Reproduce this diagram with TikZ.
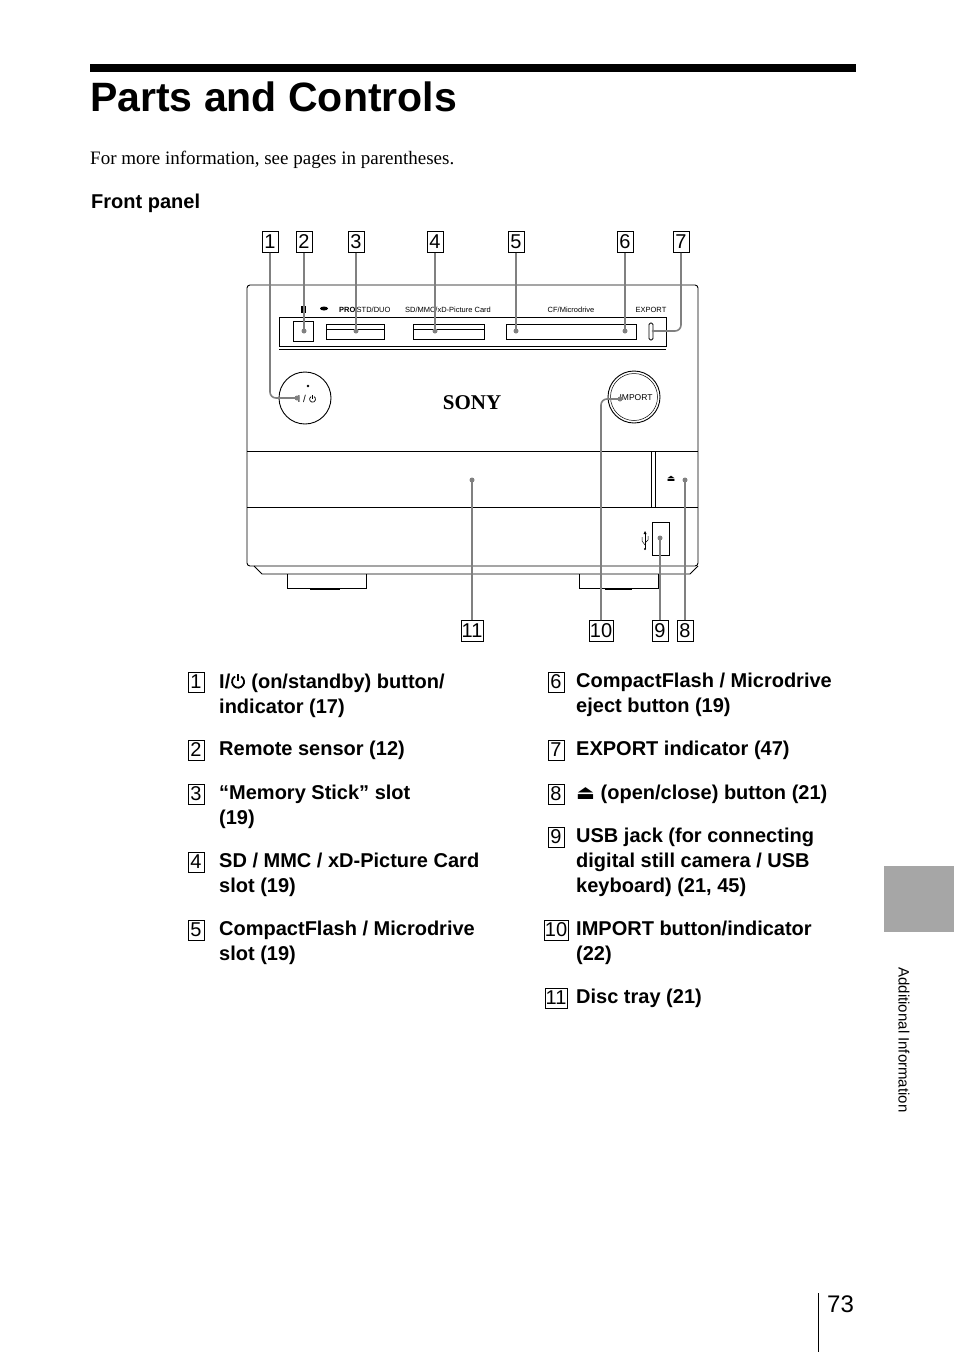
\documentclass[tikz,border=0pt]{standalone}
\usepackage{fontspec}
\setmainfont{Liberation Serif}
\setsansfont{Liberation Sans}
\newfontfamily\djv{DejaVu Sans}
\newcommand\pwrsym[1][0.09]{\tikz[baseline=0pt,x=1em,y=1em,line width=#1em]{\draw (0.35,0.72)--(0.35,0.36); \draw ([shift={(120:0.3)}]0.35,0.34) arc (120:420:0.3);}}
\begin{document}
\begin{tikzpicture}[x=1pt,y=-1pt,
  numbox/.style={draw,line width=0.6pt,inner sep=0.8pt,minimum height=21pt,minimum width=16pt,font=\sffamily\fontsize{20}{20}\selectfont},
  lead/.style={draw=gray,line width=1.6pt,rounded corners=6pt},
  dot/.style={circle,fill=gray,inner sep=0pt,minimum size=5pt},
  dev/.style={draw,line width=0.9pt},
  item/.style={anchor=north west,font=\sffamily\bfseries\fontsize{20}{25}\selectfont,align=left,inner sep=0pt},
  tiny/.style={font=\sffamily\fontsize{7.5}{8}\selectfont,inner sep=0pt}]
\useasboundingbox (0,0) rectangle (954,1352);
% header
\fill (90,64) rectangle (856,72);
\node[anchor=base west,inner sep=0pt,font=\sffamily\bfseries\fontsize{41}{41}\selectfont] (title) at (90,111) {Parts and Controls};
\node[anchor=base west,inner sep=0pt,font=\fontsize{19}{19}\selectfont] (intro) at (90,164) {For more information, see pages in parentheses.};
\node[anchor=base west,inner sep=0pt,font=\sffamily\bfseries\fontsize{20}{20}\selectfont] (fp) at (91,208) {Front panel};
% device
\draw[dev,rounded corners=3pt] (247,285) rectangle (698,566);
\draw[dev] (247,451) -- (698,451);
\draw[dev] (247,507) -- (698,507);
\draw[dev] (651,451) -- (651,507);
\draw[dev] (655,451) -- (655,507);
\draw[dev] (254,566) -- (262,574) -- (690,574) -- (698,566);
\draw[dev] (287,574) -- (287,588) -- (366,588) -- (366,574);
\draw[dev] (579,574) -- (579,588) -- (658,588) -- (658,574);
\draw[line width=2pt] (310,589) -- (340,589);
\draw[line width=2pt] (605,589) -- (632,589);
% slot panel
\draw[dev,line width=0.6pt] (279,317) rectangle (666,346);
\draw[dev,line width=0.5pt] (279,349) -- (666,349);
\draw[dev] (293,321) rectangle (313,341);
\draw[dev] (326,324) rectangle (384,339); \draw[line width=0.4pt] (326,329)--(384,329);
\draw[dev] (413,324) rectangle (484,339); \draw[line width=0.4pt] (413,329)--(484,329);
\draw[dev] (506,324) rectangle (636,339);
\draw[dev,rounded corners=1.5pt] (649,323) rectangle (653,340);
\fill (301,306) rectangle (306,313);
\fill (324,308.5) ellipse (4 and 2);
\node[tiny,anchor=west] (t2) at (339,310) {\bfseries PRO\,\mdseries STD/DUO};
\node[tiny] (t3) at (448,310) {SD/MMC/xD-Picture Card};
\node[tiny] (t4) at (571,310) {CF/Microdrive};
\node[tiny] (t5) at (651,310) {EXPORT};
% buttons
\draw[dev] (305,398) circle (26);
\node[font=\sffamily\fontsize{10}{10}\selectfont,inner sep=0pt] (pw) at (307,399) {I / \pwrsym[0.07]};
\fill (308,386) circle (1.3);
\draw[dev] (634,397) circle (26); \draw[line width=0.5pt] (634,397) circle (23.5);
\node[tiny,font=\sffamily\fontsize{8.5}{9}\selectfont] (imp) at (636,398) {IMPORT};
\node[font=\fontsize{21}{21}\selectfont\bfseries,inner sep=0pt] (sony) at (472,403) {SONY};
\node[font=\djv\fontsize{9}{9}\selectfont,inner sep=0pt] (ej) at (671,479) {⏏};
\draw[dev] (652,522) rectangle (669,555);
% usb symbol
\draw[line width=0.6pt] (645,533) -- (645,549); \fill (645,549) circle (1.2);
\draw[line width=0.5pt] (645,545) -- (642,541) -- (642,537); \draw[line width=0.5pt] (645,543) -- (648,540) -- (648,536);
\fill (645,531) -- (643.5,534) -- (646.5,534) -- cycle;
% leaders & dots
\node[dot] (d1) at (297,398) {};
\node[dot] (d2) at (304,331) {};
\node[dot] (d3) at (356,331) {};
\node[dot] (d4) at (435,331) {};
\node[dot] (d5) at (516,331) {};
\node[dot] (d6) at (625,331) {};
\node[dot,minimum size=3pt] (d7) at (653,331) {};
\node[dot] (d8) at (685,480) {};
\node[dot] (d9) at (660,538) {};
\node[dot] (d10) at (620,399) {};
\node[dot] (d11) at (472,480) {};
\node[numbox] (n1) at (270,242) {1};
\node[numbox] (n2) at (304,242) {2};
\node[numbox] (n3) at (356,242) {3};
\node[numbox] (n4) at (435,242) {4};
\node[numbox] (n5) at (516,242) {5};
\node[numbox] (n6) at (625,242) {6};
\node[numbox] (n7) at (681,242) {7};
\node[numbox] (n11) at (472,631) {11};
\node[numbox] (n10) at (601,631) {10};
\node[numbox] (n9) at (660,631) {9};
\node[numbox] (n8) at (685,631) {8};
\draw[lead] (n1.south) |- (d1.center);
\draw[lead] (n2.south) -- (d2.center);
\draw[lead] (n3.south) -- (d3.center);
\draw[lead] (n4.south) -- (d4.center);
\draw[lead] (n5.south) -- (d5.center);
\draw[lead] (n6.south) -- (d6.center);
\draw[lead] (n7.south) |- (d7.center);
\draw[lead] (n11.north) -- (d11.center);
\draw[lead] (n10.north) |- (d10.center);
\draw[lead] (n9.north) -- (d9.center);
\draw[lead] (n8.north) -- (d8.center);
% list
\tikzset{lb/.style={numbox,minimum height=20pt,minimum width=16pt,font=\sffamily\fontsize{20}{20}\selectfont}}
\node[lb] (l1) at (196,682) {1}; \node[item] (i1) at (219,673) {I/\pwrsym\ (on/standby) button/\\indicator (17)};
\node[lb] (l2) at (196,750) {2}; \node[item] (i2) at (219,741) {Remote sensor (12)};
\node[lb] (l3) at (196,794) {3}; \node[item] (i3) at (219,785) {“Memory Stick” slot\\(19)};
\node[lb] (l4) at (196,862) {4}; \node[item] (i4) at (219,853) {SD / MMC / xD-Picture Card\\slot (19)};
\node[lb] (l5) at (196,930) {5}; \node[item] (i5) at (219,921) {CompactFlash / Microdrive\\slot (19)};
\node[lb] (l6) at (556,682) {6}; \node[item] (i6) at (576,673) {CompactFlash / Microdrive\\eject button (19)};
\node[lb] (l7) at (556,750) {7}; \node[item] (i7) at (576,741) {EXPORT indicator (47)};
\node[lb] (l8) at (556,794) {8}; \node[item] (i8) at (576,785) {{\djv ⏏} (open/close) button (21)};
\node[lb] (l9) at (556,837) {9}; \node[item] (i9) at (576,828) {USB jack (for connecting\\digital still camera / USB\\keyboard) (21, 45)};
\node[lb] (l10) at (556,930) {10}; \node[item] (i10) at (576,921) {IMPORT button/indicator\\(22)};
\node[lb] (l11) at (556,998) {11}; \node[item] (i11) at (576,989) {Disc tray (21)};
% side tab & page number
\fill[gray!70] (884,866) rectangle (954,932);
\node[rotate=-90,font=\sffamily\fontsize{15}{15}\selectfont,inner sep=0pt] (side) at (904,1040) {Additional Information};
\draw[line width=0.8pt] (818,1293) -- (818,1352);
\node[anchor=base west,inner sep=0pt,font=\sffamily\fontsize{24}{24}\selectfont] (pg) at (827,1312) {73};
\end{tikzpicture}
\end{document}
